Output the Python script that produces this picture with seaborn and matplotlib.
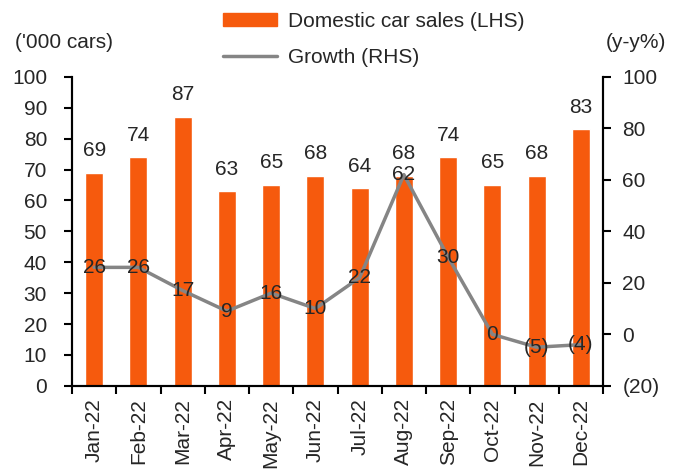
import pandas as pd
import seaborn as sns
from matplotlib import pyplot as plt
from matplotlib.lines import Line2D
from matplotlib.patches import Patch

months = ["Jan-22", "Feb-22", "Mar-22", "Apr-22", "May-22", "Jun-22",
          "Jul-22", "Aug-22", "Sep-22", "Oct-22", "Nov-22", "Dec-22"]
sales = [69, 74, 87, 63, 65, 68, 64, 68, 74, 65, 68, 83]        # '000 cars (LHS)
growth = [26, 26, 17, 9, 16, 10, 22, 62, 30, 0, -5, -4]          # y-y % (RHS)
left_ticks = [0, 10, 20, 30, 40, 50, 60, 70, 80, 90, 100]
right_ticks = [-20, 0, 20, 40, 60, 80, 100]

bar_color = "#F65A0D"
line_color = "#858585"
FS = 15


def fmt(v):
    # negatives shown in brackets
    return f"({abs(v):.0f})" if v < 0 else f"{v:.0f}"


df = pd.DataFrame({"month": months, "sales": sales, "growth": growth})
df["pos"] = range(len(df))

sns.set_style("white")
plt.rcParams["font.family"] = ["Liberation Sans", "DejaVu Sans"]
plt.rcParams["font.size"] = FS

fig = plt.figure(figsize=(6.73, 4.74), dpi=100)
ax = fig.add_axes([0.107, 0.186, 0.789, 0.652])

sns.barplot(data=df, x="month", y="sales", color=bar_color, width=0.41,
            saturation=1, ax=ax)
for p, v in zip(ax.patches, sales):
    ax.annotate(fmt(v), (p.get_x() + p.get_width() / 2, p.get_height()),
                xytext=(0, 9), textcoords="offset points",
                ha="center", va="bottom", fontsize=FS)

ax.set_xlim(-0.5, len(months) - 0.5)
ax.set_ylim(left_ticks[0], left_ticks[-1])
ax.set_yticks(left_ticks)
ax.set_xticks(df["pos"])
ax.set_xticklabels(months, rotation=90)
ax.set_xticks([i - 0.5 for i in range(len(months) + 1)], minor=True)
ax.tick_params(axis="x", which="major", length=0, pad=9, labelsize=FS)
ax.tick_params(axis="x", which="minor", length=6, width=1.5, color="black", bottom=True)
ax.tick_params(axis="y", length=6, width=1.5, color="black", left=True,
               pad=12, labelsize=FS)
ax.set(xlabel="", ylabel="")

ax2 = ax.twinx()
sns.lineplot(data=df, x="pos", y="growth", color=line_color, linewidth=2.5, ax=ax2)
for x, v in zip(df["pos"], growth):
    ax2.text(x, v, fmt(v), ha="center", va="center", fontsize=FS)
ax2.set_ylim(right_ticks[0], right_ticks[-1])
ax2.set_yticks(right_ticks)
ax2.set_yticklabels([fmt(t) for t in right_ticks])
ax2.tick_params(axis="y", length=6, width=1.5, color="black", right=True,
                pad=8, labelsize=FS)
ax2.set(xlabel="", ylabel="")
ax2.set_xlim(-0.5, len(months) - 0.5)

for a in (ax, ax2):
    a.spines["top"].set_visible(False)
    for s in ("left", "right", "bottom"):
        a.spines[s].set_color("black")
        a.spines[s].set_linewidth(1.5)

fig.text(0.022, 0.91, "('000 cars)", fontsize=FS, va="center", ha="left")
fig.text(0.99, 0.91, "(y-y%)", fontsize=FS, va="center", ha="right")

handles = [Patch(color=bar_color), Line2D([], [], color=line_color, linewidth=2.5)]
fig.legend(handles, ["Domestic car sales (LHS)", "Growth (RHS)"],
           loc="upper center", bbox_to_anchor=(0.555, 1.015), frameon=False,
           handlelength=2.6, handleheight=0.6, handletextpad=0.5,
           labelspacing=0.85, fontsize=FS)

fig.savefig("out.png", dpi=100)
